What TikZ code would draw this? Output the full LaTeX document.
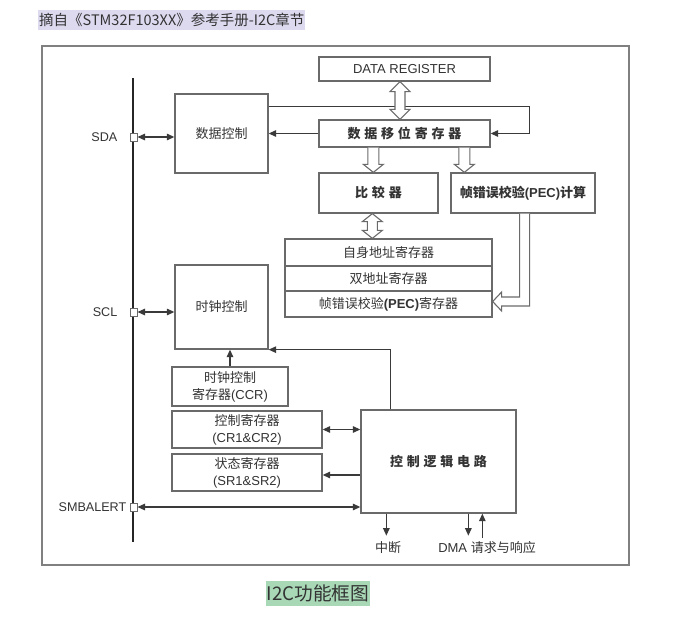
\documentclass[tikz,border=0pt]{standalone}
\usepackage{fontspec}
\setmainfont{Liberation Sans}
\newfontfamily\cjk{Noto Sans CJK SC}
\usetikzlibrary{arrows.meta,calc}
\definecolor{boxc}{HTML}{6A6A6A}
\definecolor{linec}{HTML}{3A3A3A}
\definecolor{txtc}{HTML}{333333}
\definecolor{lav}{HTML}{DDDAF0}
\definecolor{grn}{HTML}{A8D8B6}
\newcommand{\lsp}{\kern3.8pt}
\newcommand{\hdown}[2]{\draw[harrow] ($(#1)+(-5.5,0)$) -- ($(#2)+(-5.5,-8)$) -- ($(#2)+(-10,-8)$) -- (#2) -- ($(#2)+(10,-8)$) -- ($(#2)+(5.5,-8)$) -- ($(#1)+(5.5,0)$);}
\newcommand{\hdouble}[3]{\draw[harrow] (#1) -- ($(#1)+(10,#3)$) -- ($(#1)+(5,#3)$) -- ($(#2)+(5,-#3)$) -- ($(#2)+(10,-#3)$) -- (#2) -- ($(#2)+(-10,-#3)$) -- ($(#2)+(-5,-#3)$) -- ($(#1)+(-5,#3)$) -- ($(#1)+(-10,#3)$) -- cycle;}
\begin{document}
\begin{tikzpicture}[x=1pt,y=-1pt,
 >={Triangle[length=7.5pt,width=6.5pt]},
 box/.style={draw=boxc,line width=1.3pt,fill=white,inner sep=0pt,text=txtc,font=\fontsize{13}{17}\selectfont,align=center},
 pin/.style={draw=boxc,line width=1pt,fill=white,minimum width=7pt,minimum height=8pt,inner sep=0pt},
 conn/.style={draw=linec,line width=1.2pt},
 harrow/.style={draw=boxc,line width=1.1pt,fill=white,line join=miter},
 lbl/.style={text=txtc,font=\fontsize{12.6}{15}\selectfont,inner sep=0pt}]
\useasboundingbox (0,0) rectangle (681,619);
\fill[white] (0,0) rectangle (681,619);
% titles
\node[fill=lav,text=txtc,inner xsep=1pt,inner ysep=3pt,anchor=west,font=\cjk\fontsize{14.5}{16}\selectfont] (title) at (38,20) {摘自《STM32F103XX》参考手册-I2C章节};
\node[fill=grn,text=txtc,inner xsep=1pt,inner ysep=4pt,font=\cjk\fontsize{18.7}{20}\selectfont] (cap) at (318,593.5) {I2C功能框图};
% frame
\draw[draw=boxc!85,line width=1.4pt] (42,46) rectangle (629,565);
% bus
\draw[line width=2.6pt,black!85] (133,78) -- (133,542);
% boxes
\node[box,minimum width=93pt,minimum height=79pt] (dc) at (221.5,133.5) {\cjk 数据控制};
\node[box,minimum width=93pt,minimum height=84pt] (cc) at (221.5,307) {\cjk 时钟控制};
\node[box,minimum width=116pt,minimum height=39pt] (ccr) at (230,386.5) {{\cjk 时钟控制}\\{\cjk 寄存器}(CCR)};
\node[box,minimum width=150pt,minimum height=37pt] (cr) at (247,429.5) {{\cjk 控制寄存器}\\(CR1\&CR2)};
\node[box,minimum width=150pt,minimum height=37pt] (sr) at (247,472.5) {{\cjk 状态寄存器}\\(SR1\&SR2)};
\node[box,minimum width=155pt,minimum height=103pt] (cl) at (438.5,461.5) {\cjk\bfseries 控\lsp 制\lsp 逻\lsp 辑\lsp 电\lsp 路};
\node[box,minimum width=171pt,minimum height=24pt] (dr) at (404.5,69) {DATA REGISTER};
\node[box,minimum width=171pt,minimum height=27pt] (sh) at (404.5,133.5) {\cjk\bfseries 数\lsp 据\lsp 移\lsp 位\lsp 寄\lsp 存\lsp 器};
\node[box,minimum width=119pt,minimum height=40pt] (cmp) at (378.5,193) {\cjk\bfseries 比\lsp 较\lsp 器};
\node[box,minimum width=144pt,minimum height=40pt] (pec) at (523,193) {{\cjk\bfseries 帧错误校验}\textbf{(PEC)}{\cjk\bfseries 计算}};
\node[box,minimum width=207pt,minimum height=27pt] (r1) at (388.5,252.5) {\cjk 自身地址寄存器};
\node[box,minimum width=207pt,minimum height=25pt] (r2) at (388.5,278.5) {\cjk 双地址寄存器};
\node[box,minimum width=207pt,minimum height=26pt] (r3) at (388.5,304) {{\cjk 帧错误校验}\textbf{(PEC)}{\cjk 寄存器}};
% pins
\node[pin] (sda) at (133.5,137) {};
\node[pin] (scl) at (133.5,312) {};
\node[pin] (smb) at (133.5,507) {};
\node[lbl,anchor=east] (lsda) at ($(sda.west)+(-12,0)$) {SDA};
\node[lbl,anchor=east] (lscl) at ($(scl.west)+(-12,0)$) {SCL};
\node[lbl,anchor=east] (lsmb) at ($(smb.west)+(-3,0)$) {SMBALERT};
% connectors
\draw[conn,<->] (sda.east) -- (sda.east -| dc.west);
\draw[conn,<->] (scl.east) -- (scl.east -| cc.west);
\draw[conn,<->] (smb.east) -- (smb.east -| cl.west);
\draw[conn,->] (sh.west) -- (sh.west -| dc.east);
\draw[conn,->] ($(dc.north east)+(0,13)$) -| ($(sh.east)+(39,0)$) -- (sh.east);
\draw[conn,->] (ccr.north) -- (ccr.north |- cc.south);
\draw[conn,->] ($(cl.north west)+(30,0)$) |- (cc.south east);
\draw[conn,<->] (cr.east) -- (cr.east -| cl.west);
\coordinate (s1) at ($(cl.west)+(0,13.5)$);
\draw[conn,->] (s1) -- (s1 -| sr.east);
\coordinate (i1) at ($(cl.south west)+(26,0)$);
\coordinate (d1) at ($(cl.south west)+(108,0)$);
\coordinate (d2) at ($(cl.south west)+(122,24)$);
\draw[conn,->] (i1) -- ++(0,22);
\draw[conn,->] (d1) -- ++(0,22);
\draw[conn,->] (d2) -- (d2 |- cl.south);
\node[lbl,font=\cjk\fontsize{13}{15}\selectfont] (lint) at (388,548) {中断};
\node[lbl,font=\fontsize{13}{15}\selectfont] (ldma) at (487,548) {DMA {\cjk 请求与响应}};
% hollow arrows
\coordinate (h1t) at ($(dr.south)+(-4.5,0)$);
\coordinate (h1b) at (h1t |- sh.north);
\hdouble{h1t}{h1b}{10}
\coordinate (h2t) at ($(sh.south west)+(55,0)$);
\coordinate (h2b) at (h2t |- cmp.north);
\hdown{h2t}{h2b}
\coordinate (h3t) at ($(sh.south west)+(146,0)$);
\coordinate (h3b) at (h3t |- pec.north);
\hdown{h3t}{h3b}
\coordinate (h4t) at ($(cmp.south west)+(54,0)$);
\coordinate (h4b) at (h4t |- r1.north);
\hdouble{h4t}{h4b}{8}
\coordinate (pt) at ($(r3.east)+(0,-2.5)$);
\coordinate (pA) at ($(pt)+(27,0)$);
\coordinate (pB) at ($(pt)+(37,0)$);
\draw[harrow] (pA |- pec.south) -- ($(pA)+(0,-4.5)$) -- ($(pt)+(9,-4.5)$) -- ($(pt)+(9,-9.5)$) -- (pt) -- ($(pt)+(9,9.5)$) -- ($(pt)+(9,4.5)$) -- ($(pB)+(0,4.5)$) -- (pB |- pec.south);
\end{tikzpicture}
\end{document}
